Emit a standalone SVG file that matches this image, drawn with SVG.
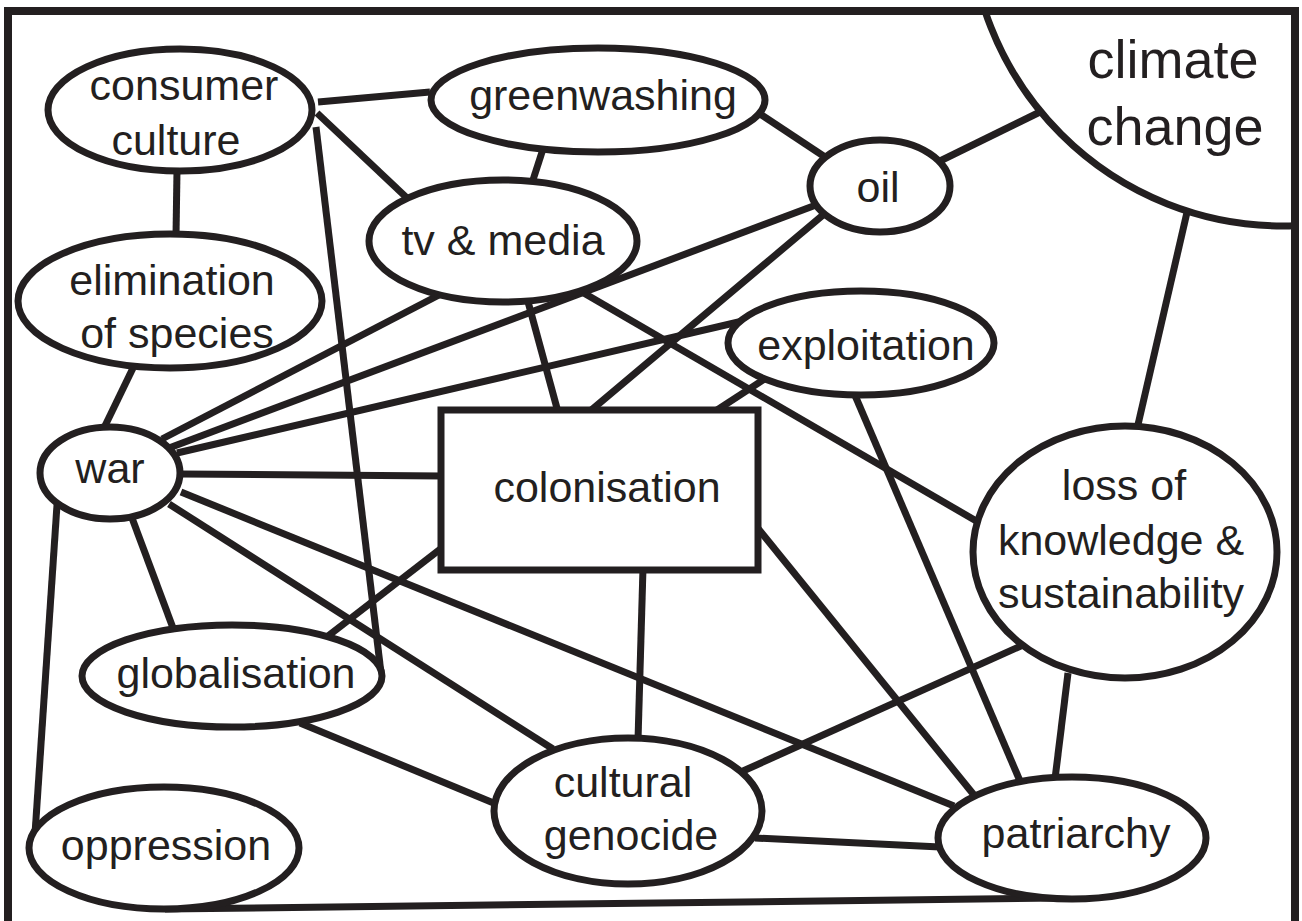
<svg xmlns="http://www.w3.org/2000/svg" width="1302" height="921" viewBox="0 0 1302 921">
<style>
.n{fill:#fff;stroke:#231f20;stroke-width:7}
.e line{stroke:#231f20;stroke-width:7;stroke-linecap:butt}
text{font-family:"Liberation Sans",Arial,sans-serif;font-size:43px;fill:#231f20;text-anchor:middle}
.big{font-size:54px}
</style>
<defs>
<clipPath id="frame"><rect x="8" y="11" width="1287" height="930"/></clipPath>
</defs>
<rect width="1302" height="921" fill="#fff"/>
<g id="connectors" class="e">
<line x1="318" y1="102" x2="430" y2="92"/>
<line x1="317" y1="113" x2="407" y2="198"/>
<line x1="316" y1="127" x2="381" y2="673"/>
<line x1="177" y1="170" x2="176" y2="236"/>
<line x1="543" y1="149" x2="532" y2="183"/>
<line x1="757" y1="112" x2="825" y2="157"/>
<line x1="940" y1="161" x2="1042" y2="111"/>
<line x1="1188" y1="208" x2="1137" y2="429"/>
<line x1="103" y1="430" x2="133" y2="368"/>
<line x1="162" y1="439" x2="439" y2="295"/>
<line x1="169" y1="448" x2="816" y2="205"/>
<line x1="177" y1="453" x2="747" y2="320"/>
<line x1="180" y1="474" x2="443" y2="476"/>
<line x1="181" y1="492" x2="954" y2="806"/>
<line x1="169" y1="504" x2="553" y2="749"/>
<line x1="132" y1="518" x2="173" y2="628"/>
<line x1="57" y1="505" x2="35" y2="834"/>
<line x1="527" y1="298" x2="558" y2="412"/>
<line x1="582" y1="292" x2="978" y2="522"/>
<line x1="823" y1="215" x2="589" y2="412"/>
<line x1="766" y1="378" x2="714" y2="412"/>
<line x1="854" y1="393" x2="1020" y2="781"/>
<line x1="756" y1="526" x2="974" y2="795"/>
<line x1="443" y1="547" x2="328" y2="636"/>
<line x1="643" y1="568" x2="638" y2="740"/>
<line x1="300" y1="723" x2="496" y2="804"/>
<line x1="743" y1="771" x2="1023" y2="645"/>
<line x1="755" y1="838" x2="940" y2="847"/>
<line x1="1068" y1="673" x2="1055" y2="779"/>
<line x1="165" y1="909" x2="1060" y2="898"/>
</g>
<g id="climate-change">
<circle class="n" cx="1283" cy="-88" r="314" clip-path="url(#frame)"/>
<text class="big" x="1173" y="78">climate</text>
<text class="big" x="1175" y="145">change</text>
</g>
<g id="consumer-culture">
<ellipse class="n" cx="180" cy="110" rx="132" ry="61"/>
<text x="184" y="100">consumer</text>
<text x="176" y="155">culture</text>
</g>
<g id="elimination-of-species">
<ellipse class="n" cx="170" cy="301" rx="152" ry="67"/>
<text x="172" y="295">elimination</text>
<text x="177" y="348">of species</text>
</g>
<g id="war">
<ellipse class="n" cx="110" cy="473" rx="70" ry="46"/>
<text x="110" y="483">war</text>
</g>
<g id="globalisation">
<ellipse class="n" cx="232" cy="676" rx="150" ry="51"/>
<text x="236" y="688">globalisation</text>
</g>
<g id="oppression">
<ellipse class="n" cx="164" cy="848" rx="135" ry="61"/>
<text x="166" y="860">oppression</text>
</g>
<g id="greenwashing">
<ellipse class="n" cx="598" cy="100" rx="167" ry="52"/>
<text x="603" y="110">greenwashing</text>
</g>
<g id="tv-media">
<ellipse class="n" cx="503" cy="241" rx="134" ry="61"/>
<text x="503" y="255">tv &amp; media</text>
</g>
<g id="oil">
<ellipse class="n" cx="880" cy="186" rx="70" ry="46"/>
<text x="878" y="202">oil</text>
</g>
<g id="exploitation">
<ellipse class="n" cx="861" cy="343" rx="133" ry="52"/>
<text x="866" y="360">exploitation</text>
</g>
<g id="colonisation">
<rect class="n" x="441" y="410" width="317" height="160"/>
<text x="607" y="502">colonisation</text>
</g>
<g id="loss-of-knowledge">
<ellipse class="n" cx="1125" cy="552" rx="152" ry="126"/>
<text x="1124" y="500">loss of</text>
<text x="1121" y="555">knowledge &amp;</text>
<text x="1121" y="608">sustainability</text>
</g>
<g id="cultural-genocide">
<ellipse class="n" cx="628" cy="811" rx="134" ry="73"/>
<text x="623" y="797">cultural</text>
<text x="631" y="850">genocide</text>
</g>
<g id="patriarchy">
<ellipse class="n" cx="1072" cy="838" rx="134" ry="61"/>
<text x="1076" y="848">patriarchy</text>
</g>
<g id="frame-border">
<rect x="8" y="11" width="1287" height="930" fill="none" stroke="#231f20" stroke-width="8"/>
</g>
</svg>
